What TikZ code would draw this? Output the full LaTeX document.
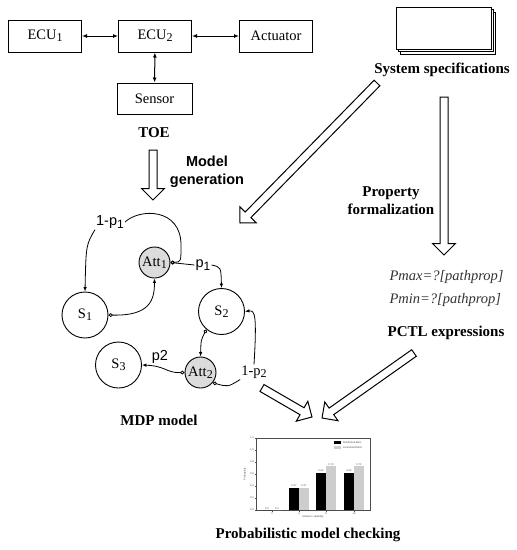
\documentclass[tikz,border=0pt]{standalone}
\usepackage{fontspec}
\setmainfont{Liberation Serif}
\setsansfont{Liberation Sans}
\usetikzlibrary{arrows.meta,positioning,shapes.arrows,calc}
\definecolor{attgray}{RGB}{220,220,220}
\definecolor{bargray}{RGB}{205,205,205}
\newcommand{\lowidx}[1]{\raisebox{-0.35ex}{\fontsize{12}{12}\selectfont #1}}
% hollow block arrow from #1 to #2
\newcommand{\hollowarr}[2]{%
  \path let \p1=($(#2)-(#1)$), \n1={veclen(\x1,\y1)}, \n2={atan2(\y1,\x1)} in
    node[hollow, minimum height=\n1, rotate=\n2, anchor=tail] at (#1) {};}
\tikzset{
  blk/.style={rectangle, draw=black, line width=1pt, minimum height=32, minimum width=73,
              align=center, font=\fontsize{14.5}{16}\selectfont},
  specbox/.style={rectangle, draw=black, line width=1pt, fill=white, minimum height=42,
                  minimum width=95},
  busarr/.style={{Latex[length=5pt,width=4pt]}-{Latex[length=5pt,width=4pt]}, line width=1pt},
  hollow/.style={single arrow, draw=black, line width=1pt, fill=white, inner sep=3.5pt,
                 minimum width=0pt, single arrow head extend=7.5pt,
                 single arrow head indent=0pt, outer sep=0pt},
  lbl/.style={font=\fontsize{15}{18}\selectfont\bfseries, align=center},
  lblsf/.style={font=\fontsize{14.5}{18}\selectfont\sffamily\bfseries, align=center},
  expr/.style={font=\fontsize{14.5}{16}\selectfont\itshape, text=black!80, anchor=west},
}

\begin{document}
\begin{tikzpicture}[x=1pt,y=-1pt,
  % states of the MDP
  stnode/.style={circle, draw, line width=0.9pt, minimum size=46, inner sep=0pt,
                 font=\fontsize{14.5}{16}\selectfont},
  attnode/.style={stnode, fill=attgray, minimum size=31},
  elbl/.style={font=\fontsize{14.5}{16}\selectfont\sffamily, inner sep=1pt},
  mdptail/.style={{Diamond[open,length=4.5pt,width=4pt]}-, line width=0.8pt},
  mdphead/.style={-{Latex[length=4.5pt,width=3.5pt]}, line width=0.8pt},
  mdpboth/.style={{Diamond[open,length=4.5pt,width=4pt]}-{Latex[length=4.5pt,width=3.5pt]}, line width=0.8pt},
  tick/.style={font=\fontsize{2.6}{3}\selectfont\sffamily, inner sep=0.6pt, text=black!70},
]
\useasboundingbox (0,0) rectangle (517,550);

% ================= TOE =================
\node[blk] (ecu1) at (45,36) {ECU\lowidx{1}};
\node[blk] (ecu2) at (155,36) {ECU\lowidx{2}};
\node[blk] (act) at (276,36) {Actuator};
\node[blk, minimum height=31, minimum width=75] (sensor) at (154.5,98.5) {Sensor};
\draw[busarr] (ecu1) -- (ecu2);
\draw[busarr] (ecu2) -- (act);
\draw[busarr] (ecu2) -- (sensor);
\node[lbl] (toe) at (154,133) {TOE};

% ================= system specifications =================
\node[specbox] (spec3) at (447.5,33) {};
\node[specbox] (spec2) at (445.5,30.5) {};
\node[specbox] (spec1) at (443.5,28) {};
\node[lbl] (speclbl) at (442,70) {System specifications};

% ================= transformations =================
\coordinate (genS) at (153,150);
\coordinate (genE) at (153,200);
\hollowarr{genS}{genE}
\node[lblsf] (gen) at (207,172) {Model\\generation};

\coordinate (specS) at (377,83);
\coordinate (specE) at (240,223);
\hollowarr{specS}{specE}

\coordinate (propS) at (444,97);
\coordinate (propE) at (444,255);
\hollowarr{propS}{propE}
\node[lbl] (prop) at (391,201) {Property\\formalization};

% ================= PCTL =================
\node[expr] (pmax) at (386,277) {Pmax=?[pathprop]};
\node[expr] (pmin) at (386,300) {Pmin=?[pathprop]};
\node[lbl] (pctl) at (446,333) {PCTL expressions};

% ================= MDP model =================
\node[attnode] (att1) at (154.5,262.5) {Att\lowidx{1}};
\node[stnode] (s1) at (85,315) {S\lowidx{1}};
\node[stnode] (s2) at (221.5,311.5) {S\lowidx{2}};
\node[stnode] (s3) at (118.5,365) {S\lowidx{3}};
\node[attnode] (att2) at (200.5,372.5) {Att\lowidx{2}};

\node[elbl] (l1p1) at (110,222) {1-p\lowidx{1}};
\node[elbl] (lp1) at (203,265) {p\lowidx{1}};
\node[elbl] (lp2) at (160,357) {p2};
\node[elbl, font=\fontsize{14.5}{16}\selectfont] (l1p2) at (254,372) {1-p\lowidx{2}};

\draw[mdptail] (att1.east) .. controls (181,262) .. (181,245)
  .. controls (181,208) and (140,208) .. (l1p1.east);
\draw[mdphead] (l1p1.south west) .. controls (86,245) .. (s1.north);
\draw[mdptail] (att1.east) -- (lp1.west);
\draw[mdphead] (lp1.east) .. controls (221,267) .. (s2.north);
\draw[mdpboth] (s1.east) .. controls (150,316) and (154.5,300) .. (att1.south);
\draw[mdpboth] (s2.230) .. controls (201,340) .. (att2.north);
\draw[mdpboth] (att2.west) .. controls (166,373) and (166,366) .. (s3.east);
\draw[mdptail] (att2.-40) .. controls (228,387) .. (l1p2.south west);
\draw[mdphead] (l1p2.north) .. controls (257,315) and (255,310) .. (s2.east);

\node[lbl] (mdplbl) at (159,420) {MDP model};

% ================= to model checking =================
\coordinate (mdpS) at (262,388);
\coordinate (mdpE) at (312,417);
\hollowarr{mdpS}{mdpE}
\coordinate (pctlS) at (414,353);
\coordinate (pctlE) at (322,418);
\hollowarr{pctlS}{pctlE}

% ================= result chart =================
\draw[line width=0.3pt, black!70] (256,438) rectangle (370,510);
\foreach \t/\v in {0/0.0,1/0.2,2/0.4,3/0.6,4/0.8,5/1.0,6/1.2}
  \draw[line width=0.3pt, black!70] (256,{510-12*\t}) -- ++(-1.5,0) node[tick, anchor=east] {\v};
\foreach \xc/\d/\c/\k in {272/0.0/0.0/0, 299/0.37/0.37/4, 326/0.62/0.73/8, 354/0.62/0.73/12} {
  \fill[black] ({\xc-10},510) rectangle (\xc,{510-60*\d});
  \fill[bargray] (\xc,510) rectangle ({\xc+10},{510-60*\c});
  \node[tick, anchor=south] at ({\xc-5},{510-60*\d}) {\d};
  \node[tick, anchor=south] at ({\xc+5},{510-60*\c}) {\c};
  \draw[line width=0.3pt, black!70] (\xc,510) -- ++(0,1.5) node[tick, anchor=north] {\k};
}
\fill[black] (334,441) rectangle (341,444);
\node[tick, anchor=west] at (342,442.5) {Distributed EEA};
\fill[bargray] (334,446) rectangle (341,449);
\node[tick, anchor=west] at (342,447.5) {Centralized EEA};
\node[tick] at (313,517) {Attacker capability};
\node[tick, rotate=90] at (245,474) {Probability};

\node[lbl] (pmc) at (308,535) {Probabilistic model checking};

\end{tikzpicture}
\end{document}
